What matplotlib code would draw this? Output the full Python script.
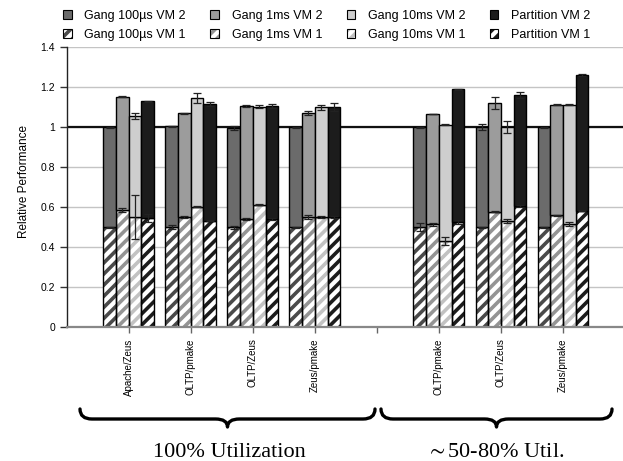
import numpy as np
import matplotlib
matplotlib.use("Agg")
import matplotlib.pyplot as plt
from matplotlib.patches import Patch, PathPatch
from matplotlib.path import Path
from matplotlib.legend_handler import HandlerTuple

nan = np.nan
categories = ["Apache/Zeus", "OLTP/pmake", "OLTP/Zeus", "Zeus/pmake", "",
              "OLTP/pmake", "OLTP/Zeus", "Zeus/pmake"]
series = ["Gang 100\u00b5s", "Gang 1ms", "Gang 10ms", "Partition"]

# VM 1 share (lower, hatched)
g100_vm1 = [0.498, 0.500, 0.498, 0.498, nan, 0.498, 0.498, 0.498]
g1_vm1   = [0.585, 0.549, 0.541, 0.552, nan, 0.513, 0.577, 0.558]
g10_vm1  = [0.552, 0.602, 0.612, 0.549, nan, 0.428, 0.528, 0.513]
part_vm1 = [0.545, 0.532, 0.538, 0.549, nan, 0.523, 0.605, 0.582]
# total (VM1 + VM2)
g100_tot = [1.000, 1.005, 0.997, 1.000, nan, 1.000, 1.000, 1.000]
g1_tot   = [1.153, 1.070, 1.107, 1.070, nan, 1.067, 1.123, 1.113]
g10_tot  = [1.057, 1.147, 1.103, 1.100, nan, 1.012, 1.000, 1.113]
part_tot = [1.130, 1.117, 1.107, 1.103, nan, 1.190, 1.162, 1.262]
# error bars
g100_vm1_err = [0.003, 0.008, 0.008, 0.002, nan, 0.020, 0.003, 0.003]
g1_vm1_err   = [0.008, 0.005, 0.005, 0.010, nan, 0.006, 0.003, 0.003]
g10_vm1_err  = [0.110, 0.003, 0.003, 0.005, nan, 0.020, 0.010, 0.010]
part_vm1_err = [0.020, 0.004, 0.005, 0.004, nan, 0.010, 0.005, 0.004]
g100_tot_err = [0.002, 0.003, 0.010, 0.002, nan, 0.002, 0.015, 0.002]
g1_tot_err   = [0.003, 0.004, 0.003, 0.010, nan, 0.002, 0.030, 0.002]
g10_tot_err  = [0.015, 0.025, 0.008, 0.012, nan, 0.002, 0.030, 0.002]
part_tot_err = [0.003, 0.010, 0.012, 0.020, nan, 0.002, 0.015, 0.003]

vm1 = [g100_vm1, g1_vm1, g10_vm1, part_vm1]
tot = [g100_tot, g1_tot, g10_tot, part_tot]
vm1_err = [g100_vm1_err, g1_vm1_err, g10_vm1_err, part_vm1_err]
tot_err = [g100_tot_err, g1_tot_err, g10_tot_err, part_tot_err]

vm2_colors = ["#6b6b6b", "#9c9c9c", "#cecece", "#1c1c1c"]
stripe_colors = ["#4a4a4a", "#949494", "#c2c2c2", "#1c1c1c"]

groups = ["100% Utilization", "$\\sim$50-80% Util."]

plt.rcParams["hatch.linewidth"] = 2.6
plt.rcParams["mathtext.fontset"] = "stix"
sans = ["Liberation Sans", "DejaVu Sans"]

W, H, DPI = 623, 461, 100
fig = plt.figure(figsize=(W / DPI, H / DPI), dpi=DPI)
ax = fig.add_axes([66.7 / W, (H - 326.7) / H, 1 - 66.7 / W, (326.7 - 47.5) / H])

x = np.arange(len(categories))
bw = 0.205
offs = (np.arange(4) - 1.5) * bw

for i in range(4):
    v1 = np.array(vm1[i], float)
    t = np.array(tot[i], float)
    v2 = t - v1
    xs = x + offs[i]
    # hatched VM1
    ax.bar(xs, v1, bw, color="white", edgecolor=stripe_colors[i], hatch="///",
           linewidth=0, zorder=2)
    ax.bar(xs, v1, bw, fill=False, edgecolor="black", linewidth=1.0, zorder=2.1)
    # VM2 on top
    ax.bar(xs, v2, bw, bottom=v1, color=vm2_colors[i], edgecolor="black",
           linewidth=1.0, zorder=2.2)
    ax.errorbar(xs, v1, yerr=np.array(vm1_err[i], float), fmt="none",
                ecolor="#222222", elinewidth=0.9, capsize=3, capthick=0.9, zorder=3)
    ax.errorbar(xs, t, yerr=np.array(tot_err[i], float), fmt="none",
                ecolor="#222222", elinewidth=0.9, capsize=3, capthick=0.9, zorder=3)

ax.set_xlim(-1, (W - 129) / 62.0)
ax.set_ylim(0, 1.4)
ax.set_yticks(np.arange(0, 1.41, 0.2))
ax.set_yticklabels(["0", "0.2", "0.4", "0.6", "0.8", "1", "1.2", "1.4"],
                   fontsize=7.5, family=sans)
ax.yaxis.grid(True, color="#c4c4c4", linewidth=1.0, zorder=0)
ax.set_axisbelow(True)
ax.axhline(1.0, color="#111111", linewidth=1.6, zorder=1.5)
ax.set_xticks(x)
ax.set_xticklabels(categories, rotation=90, fontsize=7, family=sans)
ax.tick_params(axis="x", length=4.5, width=1.0, color="#666666", pad=4)
ax.tick_params(axis="y", length=5, width=1.0, color="#333333", pad=3.5)
for s in ["top", "right"]:
    ax.spines[s].set_visible(False)
ax.spines["left"].set_color("#222222")
ax.spines["left"].set_linewidth(1.0)
ax.spines["bottom"].set_color("#888888")
ax.spines["bottom"].set_linewidth(1.6)
ax.set_ylabel("Relative Performance", fontsize=8.5, family=sans)
ax.yaxis.set_label_coords(-0.066, 0.52)

# legend
handles, labels = [], []
for i in range(4):
    handles.append(Patch(facecolor=vm2_colors[i], edgecolor="black", linewidth=0.8))
    labels.append(series[i] + " VM 2")
    handles.append((Patch(facecolor="white", edgecolor=stripe_colors[i], hatch="///", linewidth=0),
                    Patch(fill=False, edgecolor="black", linewidth=0.8)))
    labels.append(series[i] + " VM 1")
fig.legend(handles, labels, ncol=4, loc="upper left",
           bbox_to_anchor=(52 / W, 1 + 1 / H), frameon=False,
           prop={"family": sans, "size": 9}, handlelength=0.7, handleheight=0.7,
           handletextpad=1.0, columnspacing=1.95, labelspacing=0.55,
           handler_map={tuple: HandlerTuple(ndivide=1, pad=0)})

# braces
def brace(x0, x1, yline, yend, ytip, r=12):
    xm = (x0 + x1) / 2
    pts = [(x0, yend), (x0, yline), (x0 + r, yline),
           (xm - r, yline), (xm, yline), (xm, ytip),
           (xm, yline), (xm + r, yline),
           (x1 - r, yline), (x1, yline), (x1, yend)]
    codes = [Path.MOVETO, Path.CURVE3, Path.CURVE3,
             Path.LINETO, Path.CURVE3, Path.CURVE3,
             Path.CURVE3, Path.CURVE3,
             Path.LINETO, Path.CURVE3, Path.CURVE3]
    pts = [(px / W, 1 - py / H) for px, py in pts]
    fig.add_artist(PathPatch(Path(pts, codes), fill=False, edgecolor="black",
                             linewidth=2.4, transform=fig.transFigure,
                             capstyle="round", joinstyle="round"))

brace(80, 375, 419, 409, 427)
brace(381, 612, 419, 409, 427)
serif = ["Liberation Serif", "DejaVu Serif"]
fig.text(229 / W, 1 - 457 / H, groups[0], ha="center", va="baseline",
         fontsize=16, family=serif)
fig.text(495 / W, 1 - 457 / H, groups[1], ha="center", va="baseline",
         fontsize=16, family=serif)

fig.savefig("out.png", dpi=DPI)
